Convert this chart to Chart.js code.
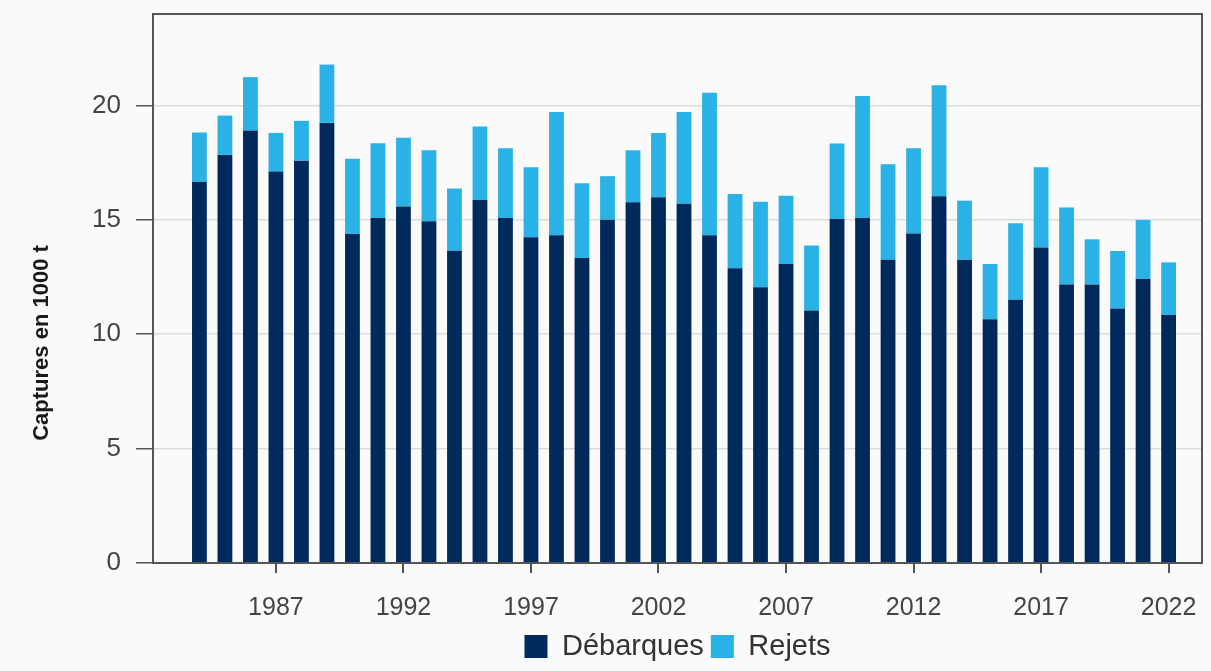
<!DOCTYPE html>
<html>
<head>
<meta charset="utf-8">
<script src="https://cdn.jsdelivr.net/npm/chart.js@4.4.0/dist/chart.umd.min.js"></script>
<style>
  html, body { margin: 0; padding: 0; background: #fafafa; }
  #wrap { width: 1211px; height: 671px; }
</style>
</head>
<body>
<div id="wrap"><canvas id="chart"></canvas></div>
<script>
// Années
const years = [
  1984, 1985, 1986, 1987, 1988, 1989, 1990, 1991, 1992, 1993,
  1994, 1995, 1996, 1997, 1998, 1999, 2000, 2001, 2002, 2003,
  2004, 2005, 2006, 2007, 2008, 2009, 2010, 2011, 2012, 2013,
  2014, 2015, 2016, 2017, 2018, 2019, 2020, 2021, 2022
]

// Débarques (1000 t)
const debarques = [
  16.67, 17.84, 18.91, 17.11, 17.59, 19.24, 14.38, 15.08, 15.59, 14.94,
  13.65, 15.87, 15.08, 14.24, 14.33, 13.33, 15.01, 15.77, 15.99, 15.70,
  14.33, 12.88, 12.05, 13.07, 11.04, 15.04, 15.08, 13.26, 14.40, 16.03,
  13.26, 10.66, 11.51, 13.79, 12.18, 12.18, 11.13, 12.43, 10.84
]

// Rejets (1000 t)
const rejets = [
  2.15, 1.72, 2.33, 1.69, 1.74, 2.55, 3.29, 3.27, 3.00, 3.10,
  2.72, 3.21, 3.05, 3.06, 5.39, 3.27, 1.90, 2.27, 2.81, 4.02,
  6.23, 3.25, 3.74, 2.99, 2.84, 3.30, 5.33, 4.17, 3.73, 4.85,
  2.58, 2.41, 3.34, 3.51, 3.36, 1.97, 2.51, 2.57, 2.30
]

// Années affichées sur l'axe x
const tickYears = [1987, 1992, 1997, 2002, 2007, 2012, 2017, 2022]

const yTitle = "Captures en 1000 t"

const axisColor = "#555"
const labelColor = "#444"

// Cadre autour de la zone du graphique + titre de l'axe y
const frame = {
  id: "frame",
  afterDraw(chart) {
    const { ctx, chartArea } = chart
    ctx.save()
    ctx.strokeStyle = axisColor
    ctx.lineWidth = 2
    ctx.strokeRect(chartArea.left, chartArea.top, chartArea.right - chartArea.left, chartArea.bottom - chartArea.top)

    ctx.translate(42, chartArea.bottom - 220)
    ctx.rotate(-Math.PI / 2)
    ctx.fillStyle = "#1a1a1a"
    ctx.font = "bold 22px 'Liberation Sans'"
    ctx.textAlign = "center"
    ctx.textBaseline = "middle"
    ctx.fillText(yTitle, 0, 0)
    ctx.restore()
  },
}

new Chart(document.getElementById("chart"), {
  type: "bar",
  data: {
    labels: years,
    datasets: [
      {
        label: "Débarques",
        data: debarques,
        backgroundColor: "#012a5c",
      },
      {
        label: "Rejets",
        data: rejets,
        backgroundColor: "#2ab1e6",
      },
    ],
  },
  options: {
    responsive: true,
    maintainAspectRatio: false,
    animation: false,
    categoryPercentage: 1,
    barPercentage: 0.58,
    layout: { padding: { top: 14, right: 9, left: 0, bottom: 0 } },
    scales: {
      x: {
        type: "linear",
        stacked: true,
        offset: false,
        min: 1982.18,
        max: 2023.31,
        afterBuildTicks: (scale) => {
          scale.ticks = tickYears.map((v) => ({ value: v }))
        },
        afterFit: (scale) => {
          scale.paddingLeft = 0
          scale.paddingRight = 0
          scale.height -= 18
        },
        grid: { offset: false, drawOnChartArea: false, drawTicks: true, tickLength: 10, tickColor: axisColor, lineWidth: 2 },
        border: { color: axisColor, width: 2 },
        ticks: {
          color: labelColor,
          font: { family: "Liberation Sans", size: 25 },
          padding: 20,
          maxRotation: 0,
          autoSkip: false,
          callback: (v) => String(v),
        },
      },
      y: {
        stacked: true,
        min: 0,
        max: 24,
        afterFit: (scale) => {
          scale.width = 153
          scale.paddingTop = 0
          scale.paddingBottom = 0
        },
        grid: { color: "#dcdcdc", lineWidth: 1.5, tickColor: axisColor, tickLength: 17 },
        border: { color: axisColor, width: 2 },
        ticks: {
          stepSize: 5,
          includeBounds: false,
          color: labelColor,
          font: { family: "Liberation Sans", size: 26 },
          padding: 15,
        },
      },
    },
    plugins: {
      legend: {
        position: "bottom",
        fullSize: false,
        labels: {
          boxWidth: 23,
          boxHeight: 23,
          padding: 7,
          color: "#333",
          font: { family: "Liberation Sans", size: 29 },
        },
      },
      tooltip: { enabled: false },
    },
  },
  plugins: [frame],
})
</script>
</body>
</html>
